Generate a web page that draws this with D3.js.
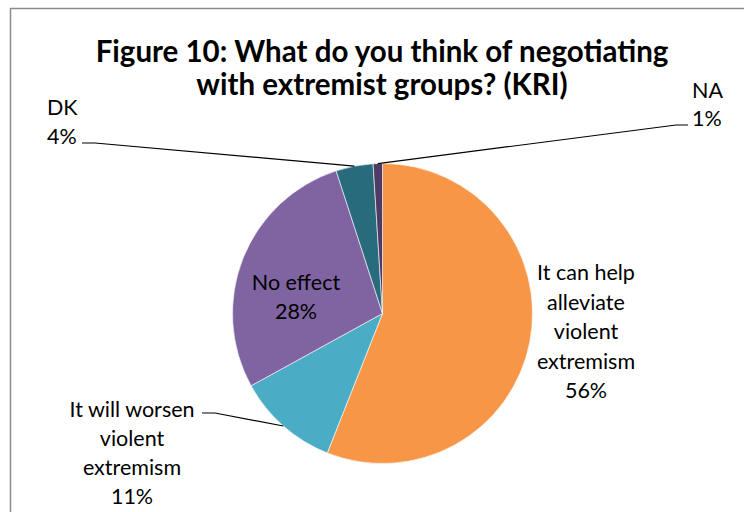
<!DOCTYPE html>
<html>
<head>
<meta charset="utf-8">
<script src="https://cdn.jsdelivr.net/npm/d3@7"></script>
<style>
  html, body { margin: 0; padding: 0; background: #fff; }
  svg { display: block; }
  text { font-family: Lato, "Open Sans", sans-serif; fill: #000; }
</style>
</head>
<body>
<svg id="chart" width="744" height="512"></svg>
<script>
// Survey answers, in drawing order (clockwise from 12 o'clock)
const categories = ["It can help alleviate violent extremism", "It will worsen violent extremism", "No effect", "DK", "NA"];
const values = [56, 11, 28, 4, 1];
const colors = ["#F79646", "#4BACC6", "#8064A2", "#286B7D", "#4E3B65"];
const labelLines = [
  ["It can help", "alleviate", "violent", "extremism", "56%"],
  ["It will worsen", "violent", "extremism", "11%"],
  ["No effect", "28%"],
  ["DK", "4%"],
  ["NA", "1%"]
];
const titleLines = ["Figure 10: What do you think of negotiating", "with extremist groups? (KRI)"];

const svg = d3.select("#chart");
const cx = 382.5, cy = 313.5, R = 150;

// outer frame (top and left edges visible)
svg.append("path")
  .attr("d", "M10.5,512 L10.5,8.5 L744,8.5")
  .attr("fill", "none").attr("stroke", "#8a8a8a").attr("stroke-width", 1.5);

// title
const title = svg.append("text")
  .attr("text-anchor", "middle")
  .attr("font-weight", "bold")
  .attr("font-size", 29.5);
titleLines.forEach((t, i) => {
  title.append("tspan").attr("x", 382).attr("y", 62 + i * 33).text(t);
});

const data = categories.map((c, i) => ({ name: c, value: values[i], color: colors[i], lines: labelLines[i] }));

const pie = d3.pie().value(d => d.value).sort(null);
const arc = d3.arc().innerRadius(0).outerRadius(R);
const arcs = pie(data);

const g = svg.append("g").attr("transform", `translate(${cx},${cy})`);
g.selectAll("path.slice")
  .data(arcs)
  .join("path")
  .attr("class", "slice")
  .attr("d", arc)
  .attr("fill", d => d.data.color)
  .attr("stroke", "#fff")
  .attr("stroke-width", 0.6);

// label placement (anchor x, first baseline y, line spacing, anchor)
const labelPos = [
  { x: 586, y: 280, dy: 29.5, anchor: "middle" },
  { x: 132, y: 417, dy: 29, anchor: "middle" },
  { x: 296, y: 290, dy: 29, anchor: "middle" },
  { x: 47, y: 115, dy: 29, anchor: "start" },
  { x: 692, y: 98, dy: 28, anchor: "start" }
];

svg.selectAll("text.lbl")
  .data(arcs)
  .join("text")
  .attr("class", "lbl")
  .attr("font-size", 21.5)
  .attr("text-anchor", (d, i) => labelPos[i].anchor)
  .each(function (d, i) {
    const p = labelPos[i];
    d3.select(this).selectAll("tspan")
      .data(d.data.lines)
      .join("tspan")
      .attr("x", p.x)
      .attr("y", (t, j) => p.y + j * p.dy)
      .text(t => t);
  });

// leader lines from outside labels to slice edges
const edgePoint = (a, frac) => {
  const ang = a.startAngle + (a.endAngle - a.startAngle) * frac;
  return [cx + R * Math.sin(ang), cy - R * Math.cos(ang)];
};
const leaders = [
  { i: 1, start: [202, 413], bend: [215, 413], frac: 0.5 },
  { i: 3, start: [82, 143], bend: [95, 143], frac: 0.5 },
  { i: 4, start: [688, 125], bend: [676, 125], frac: 0.5 }
];
leaders.forEach(l => {
  const p = edgePoint(arcs[l.i], l.frac);
  svg.append("path")
    .attr("d", d3.line()([l.start, l.bend, p]))
    .attr("fill", "none")
    .attr("stroke", "#000")
    .attr("stroke-width", 1.2);
});
</script>
</body>
</html>
